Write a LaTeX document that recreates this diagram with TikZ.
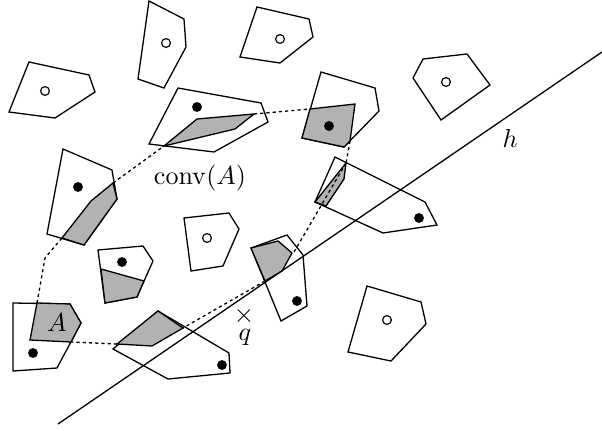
\documentclass[tikz,border=0pt]{standalone}
\begin{document}
\begin{tikzpicture}[x=0.3846pt,y=-0.3846pt,line join=miter,
  poly/.style={draw=black,line width=0.5pt},
  piece/.style={draw=black,fill=black!30,line width=0.5pt},
  hull/.style={draw=black,line width=0.5pt,dash pattern=on 1.2pt off 1.2pt},
  bdot/.style={fill=black},
  wdot/.style={draw=black,fill=white,line width=0.45pt},
  lbl/.style={inner sep=0pt}]
\useasboundingbox (0,0) rectangle (602,431);
% empty polygons
\draw[poly] (29,62) -- (89,75) -- (95,92) -- (55,118) -- (9,112) -- cycle;
\draw[wdot] (45,91) circle (1.7pt);
\draw[poly] (149,1) -- (184,19) -- (186,47) -- (164,88) -- (138,79) -- cycle;
\draw[wdot] (166,43) circle (1.7pt);
\draw[poly] (257,7) -- (309,19) -- (313,37) -- (280,63) -- (240,57) -- cycle;
\draw[wdot] (280,39) circle (1.7pt);
\draw[poly] (423,59) -- (467,54) -- (490,85) -- (441,120) -- (413,78) -- cycle;
\draw[wdot] (446,82) circle (1.7pt);
\draw[poly] (184,218) -- (229,213) -- (239,229) -- (223,266) -- (191,271) -- cycle;
\draw[wdot] (207,238) circle (1.7pt);
\draw[poly] (367,286) -- (421,302) -- (426,324) -- (391,361) -- (348,352) -- cycle;
\draw[wdot] (387,320) circle (1.7pt);
% polygons with pieces
\draw[poly] (178,88) -- (261,103) -- (268,122) -- (214,152) -- (149,144) -- cycle;
\draw[piece] (164,146) -- (197,119) -- (254,114) -- (235,129) -- cycle;
\fill (197,107) circle (1.9pt);
\draw[poly] (321,72) -- (375,88) -- (379,111) -- (344,147) -- (302,138) -- cycle;
\draw[piece] (310,109) -- (355,104) -- (350,141) -- (344,147) -- (302,138) -- cycle;
\fill (329,126) circle (1.9pt);
\draw[poly] (63,149) -- (112,170) -- (117,199) -- (84,245) -- (47,234) -- cycle;
\draw[piece] (62,238) -- (91,201) -- (113,183) -- (117,199) -- (84,245) -- cycle;
\fill (78,187) circle (1.9pt);
\draw[poly] (335,157) -- (425,202) -- (437,225) -- (383,233) -- (315,202) -- cycle;
\draw[piece] (315,202) -- (346,163) -- (344,179) -- (326,206) -- cycle;
\fill (419,218) circle (1.9pt);
\draw[poly] (98,250) -- (143,246) -- (153,261) -- (144,281) -- (137,297) -- (105,303) -- cycle;
\draw[piece] (101,269) -- (144,281) -- (137,297) -- (105,303) -- cycle;
\fill (122,262) circle (1.9pt);
\draw[poly] (251,248) -- (287,235) -- (303,255) -- (307,306) -- (281,321) -- cycle;
\draw[piece] (251,248) -- (278,241) -- (292,253) -- (282,271) -- (265,281) -- cycle;
\fill (297,301) circle (1.9pt);
\draw[poly] (13,303) -- (70,304) -- (81,323) -- (57,368) -- (13,371) -- cycle;
\draw[piece] (37,303) -- (70,304) -- (81,323) -- (71,342) -- (30,340) -- cycle;
\fill (33,353) circle (1.9pt);
\draw[poly] (113,349) -- (158,311) -- (229,353) -- (230,373) -- (168,379) -- cycle;
\draw[piece] (117,344) -- (158,311) -- (183,328) -- (152,346) -- cycle;
\fill (222,365) circle (1.9pt);
% hull of A
\draw[hull] (113,183) -- (164,146);
\draw[hull] (254,114) -- (310,109);
\draw[hull] (350,141) -- (346,163);
\draw[hull] (346,163) -- (294,252);
\draw[hull] (265,281) -- (183,328);
\draw[hull] (117,344) -- (71,342);
\draw[hull] (37,303) -- (45,258) -- (62,238);
% line h
\draw[line width=0.5pt] (58,424) -- (602,52);
% labels
\node[lbl] (conv) at (200,178) {$\mathrm{conv}(A)$};
\node[lbl] (alabel) at (57,323) {$A$};
\node[lbl] (hlabel) at (510,138) {$h$};
\node[lbl] (qmark) at (244,316) {$\times$};
\node[lbl,anchor=base] (qlabel) at (245,340) {$q$};
\end{tikzpicture}
\end{document}
